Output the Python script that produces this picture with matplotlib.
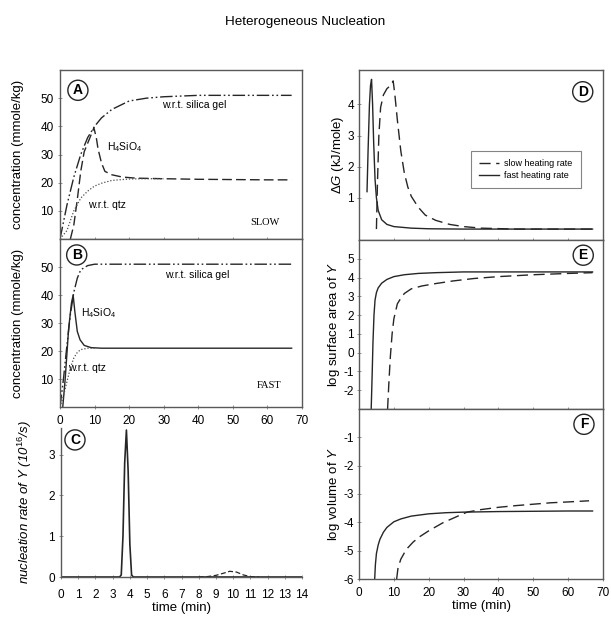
import numpy as np
import matplotlib
matplotlib.use('Agg')
import matplotlib.pyplot as plt

plt.rcParams['font.family'] = ['Liberation Sans', 'DejaVu Sans']
plt.rcParams['font.size'] = 8
plt.rcParams['axes.unicode_minus'] = False
plt.rcParams['mathtext.fontset'] = 'custom'
plt.rcParams['mathtext.rm'] = 'Liberation Sans'
plt.rcParams['mathtext.it'] = 'Liberation Sans:italic'

# ---- panel A (slow) ----
a_gel_x = [0, 2, 4, 6, 8, 10, 12, 15, 20, 25, 30, 40, 50, 60, 67]
a_gel_y = [0, 12, 22, 30, 36, 40, 43, 46, 49, 50, 50.5, 51, 51, 51, 51]
a_h4_x = [3, 4, 5, 6, 7, 8, 9, 9.8, 10.5, 11, 12, 13, 15, 18, 22, 30, 40, 50, 60, 67]
a_h4_y = [0, 5, 14, 24, 31, 34, 37, 39.5, 36, 32, 27, 24, 22.8, 22, 21.6, 21.4, 21.2, 21.1, 21, 21]
a_qtz_x = [0, 2, 4, 6, 8, 10, 12, 15, 20, 25, 30]
a_qtz_y = [0, 3, 10, 14.5, 17, 18.8, 19.8, 20.8, 21.3, 21.4, 21.4]

# ---- panel B (fast) ----
b_gel_x = [0, 1, 2, 3, 4, 5, 6, 8, 10, 15, 20, 30, 67]
b_gel_y = [0, 10, 22, 33, 41, 46, 49, 50.5, 51, 51, 51, 51, 51]
b_h4_x = [0.8, 1.5, 2.5, 3.3, 3.8, 4.3, 5, 5.8, 7, 9, 12, 20, 67]
b_h4_y = [0, 10, 28, 37, 40, 34, 27, 24, 22, 21.2, 21, 21, 21]
b_qtz_x = [0, 1, 2, 3, 4, 5, 6, 8, 10]
b_qtz_y = [0, 4, 9, 14, 17.5, 19.5, 20.5, 21, 21]

# ---- panel C (nucleation rate) ----
c_fast_x = [0, 3.4, 3.5, 3.6, 3.7, 3.8, 3.9, 4.0, 4.1, 4.2, 14]
c_fast_y = [0, 0, 0.05, 1.0, 2.8, 3.6, 2.6, 0.8, 0.05, 0, 0]
c_slow_x = [8, 8.5, 9, 9.5, 9.8, 10.2, 10.6, 11, 11.5]
c_slow_y = [0, 0.01, 0.04, 0.1, 0.14, 0.12, 0.05, 0.01, 0]

# ---- panel D (delta G) ----
d_slow_x = [5.0, 5.3, 5.7, 6.2, 7, 8, 9, 9.8, 10.3, 11, 12, 13, 14, 15, 17, 19, 22, 26, 30, 35, 45, 55, 67]
d_slow_y = [0, 1.5, 3.0, 3.9, 4.3, 4.5, 4.6, 4.75, 4.3, 3.5, 2.5, 1.8, 1.35, 1.05, 0.7, 0.45, 0.28, 0.15, 0.08, 0.03, 0, 0, 0]
d_fast_x = [2.3, 2.6, 3.0, 3.3, 3.6, 3.9, 4.2, 4.6, 5.0, 5.5, 6.5, 8, 10, 15, 20, 30, 40, 50, 60, 67]
d_fast_y = [1.2, 2.5, 4.0, 4.6, 4.8, 4.0, 2.8, 1.6, 1.0, 0.6, 0.3, 0.15, 0.08, 0.03, 0.01, 0, 0, 0, 0, 0]

# ---- panel E (log surface area) ----
e_fast_x = [3.5, 3.8, 4.0, 4.3, 4.6, 5.0, 5.5, 6.5, 8, 10, 13, 17, 22, 30, 40, 50, 60, 67]
e_fast_y = [-3, -1, 0.5, 2.0, 2.8, 3.2, 3.45, 3.7, 3.9, 4.05, 4.15, 4.22, 4.26, 4.3, 4.3, 4.3, 4.3, 4.3]
e_slow_x = [8.2, 8.6, 9.0, 9.5, 10, 11, 12, 13, 15, 18, 22, 27, 33, 40, 50, 60, 67]
e_slow_y = [-3, -1.5, -0.2, 1.0, 1.8, 2.6, 2.9, 3.15, 3.4, 3.55, 3.68, 3.82, 3.95, 4.05, 4.15, 4.22, 4.26]

# ---- panel F (log volume) ----
f_fast_x = [4.5, 4.7, 5, 5.5, 6, 7, 8, 10, 12, 15, 20, 25, 30, 40, 50, 60, 67]
f_fast_y = [-6, -5.5, -5.1, -4.8, -4.6, -4.35, -4.18, -3.98, -3.88, -3.78, -3.7, -3.66, -3.64, -3.62, -3.61, -3.6, -3.6]
f_slow_x = [10.8, 11.2, 12, 13, 14, 15.5, 17.5, 20, 24, 28, 31, 35, 40, 45, 50, 55, 60, 66]
f_slow_y = [-6, -5.6, -5.3, -5.08, -4.9, -4.7, -4.5, -4.3, -4.02, -3.8, -3.64, -3.55, -3.47, -3.41, -3.36, -3.31, -3.28, -3.24]

W, H = 611.0, 621.0
def box(l, r, t, b):
    return [l / W, (H - b) / H, (r - l) / W, (b - t) / H]

fig = plt.figure(figsize=(6.11, 6.21), dpi=100)
axA = fig.add_axes(box(60, 302, 70, 239))
axB = fig.add_axes(box(60, 302, 239, 407))
axC = fig.add_axes(box(61, 302, 428, 577))
axD = fig.add_axes(box(359, 603, 70, 240))
axE = fig.add_axes(box(359, 603, 240, 409))
axF = fig.add_axes(box(359, 603, 409, 579))

lc = '0.15'
gel_dash = (0, (9, 2, 1.2, 2, 1.2, 2))
for ax in [axA, axB, axC, axD, axE, axF]:
    for s in ax.spines.values():
        s.set_color('0.35')
        s.set_linewidth(1.0)
    ax.tick_params(direction='inout', length=3, width=0.6, color='0.5', labelsize=8.5, pad=3)
for ax in [axD, axE, axF]:
    ax.tick_params(axis='y', pad=2)

def circ(ax, txt, x, y):
    ax.text(x, y, txt, transform=ax.transAxes, ha='center', va='center', fontsize=10, fontweight='bold',
            bbox=dict(boxstyle='circle,pad=0.22', fc='white', ec='0.15', lw=1.0))

# A
axA.plot(a_gel_x, a_gel_y, color=lc, lw=1.0, linestyle=gel_dash)
axA.plot(a_h4_x, a_h4_y, color=lc, lw=1.0, linestyle=(0, (7, 3)))
axA.plot(a_qtz_x, a_qtz_y, color='0.3', lw=0.9, linestyle=(0, (1, 1.5)))
axA.set_xlim(0, 70); axA.set_ylim(0, 60)
axA.set_xticks(range(0, 71, 10)); axA.set_xticklabels([])
axA.set_yticks([10, 20, 30, 40, 50])
axA.set_ylabel('concentration (mmole/kg)', fontsize=9.5, labelpad=12)
axA.text(29.5, 47.5, 'w.r.t. silica gel', fontsize=7.5, va='center')
axA.text(13.5, 32.5, r'H$_4$SiO$_4$', fontsize=7.5, va='center')
axA.text(8, 12, 'w.r.t. qtz', fontsize=7.5, va='center')
axA.text(55, 5.7, 'SLOW', fontsize=7.5, va='center', family='Liberation Serif')
circ(axA, 'A', 0.074, 0.88)

# B
axB.plot(b_gel_x, b_gel_y, color=lc, lw=1.0, linestyle=gel_dash)
axB.plot(b_h4_x, b_h4_y, color=lc, lw=1.0)
axB.plot(b_qtz_x, b_qtz_y, color='0.3', lw=0.9, linestyle=(0, (1, 1.5)))
axB.set_xlim(0, 70); axB.set_ylim(0, 60)
axB.set_xticks(range(0, 71, 10))
axB.tick_params(axis='x', pad=4.5)
axB.set_yticks([10, 20, 30, 40, 50])
axB.set_ylabel('concentration (mmole/kg)', fontsize=9.5, labelpad=12)
axB.text(30.5, 47, 'w.r.t. silica gel', fontsize=7.5, va='center')
axB.text(6.2, 33.5, r'H$_4$SiO$_4$', fontsize=7.5, va='center')
axB.text(2.4, 14, 'w.r.t. qtz', fontsize=7.5, va='center')
axB.text(57, 7.5, 'FAST', fontsize=7.5, va='center', family='Liberation Serif')
circ(axB, 'B', 0.069, 0.905)

# C
axC.plot(c_fast_x, c_fast_y, color=lc, lw=1.2)
axC.plot(c_slow_x, c_slow_y, color=lc, lw=0.9, linestyle=(0, (4, 2)))
axC.set_xlim(0, 14); axC.set_ylim(0, 3.65)
axC.set_xticks(range(0, 15)); axC.set_yticks([0, 1, 2, 3])
axC.tick_params(axis='x', pad=7)
axC.spines['top'].set_visible(False); axC.spines['right'].set_visible(False)
axC.set_xlabel('time (min)', fontsize=9.5, labelpad=1)
axC.set_ylabel(r'nucleation rate of Y (10$^{16}$/s)', fontsize=9.5, style='italic', labelpad=10)
circ(axC, 'C', 0.058, 0.92)

# D
axD.plot(d_slow_x, d_slow_y, color=lc, lw=1.0, linestyle=(0, (8, 4)), label='slow heating rate')
axD.plot(d_fast_x, d_fast_y, color=lc, lw=1.0, label='fast heating rate')
axD.set_xlim(0, 70); axD.set_ylim(-0.35, 5.1)
axD.set_xticks(range(0, 71, 10)); axD.set_xticklabels([])
axD.set_yticks([1, 2, 3, 4])
axD.set_ylabel(r'$\Delta G$ (kJ/mole)', fontsize=9.5, labelpad=1)
leg = axD.legend(loc='upper left', bbox_to_anchor=(0.44, 0.55), fontsize=6.5, frameon=True, fancybox=False,
                 handlelength=2.2, handletextpad=0.6, borderpad=0.9, labelspacing=0.3, edgecolor='0.4')
leg.get_frame().set_linewidth(0.8)
circ(axD, 'D', 0.917, 0.872)

# E
axE.plot(e_fast_x, e_fast_y, color=lc, lw=1.0)
axE.plot(e_slow_x, e_slow_y, color=lc, lw=1.0, linestyle=(0, (8, 4)))
axE.set_xlim(0, 70); axE.set_ylim(-3, 6)
axE.set_xticks(range(0, 71, 10)); axE.set_xticklabels([])
axE.set_yticks(range(-2, 6))
axE.set_ylabel(r'log surface area of $Y$', fontsize=9.5, labelpad=1)
circ(axE, 'E', 0.919, 0.91)

# F
axF.plot(f_fast_x, f_fast_y, color=lc, lw=1.0)
axF.plot(f_slow_x, f_slow_y, color=lc, lw=1.0, linestyle=(0, (8, 4)))
axF.set_xlim(0, 70); axF.set_ylim(-6, 0)
axF.set_xticks(range(0, 71, 10))
axF.tick_params(axis='x', pad=4)
axF.set_yticks(range(-6, 0))
axF.set_xlabel('time (min)', fontsize=9.5, labelpad=1)
axF.set_ylabel(r'log volume of $Y$', fontsize=9.5, labelpad=1)
circ(axF, 'F', 0.922, 0.91)

fig.text(0.5, 1 - 22 / H, 'Heterogeneous Nucleation', ha='center', va='center', fontsize=9.7)

fig.savefig('out.png', dpi=100)
